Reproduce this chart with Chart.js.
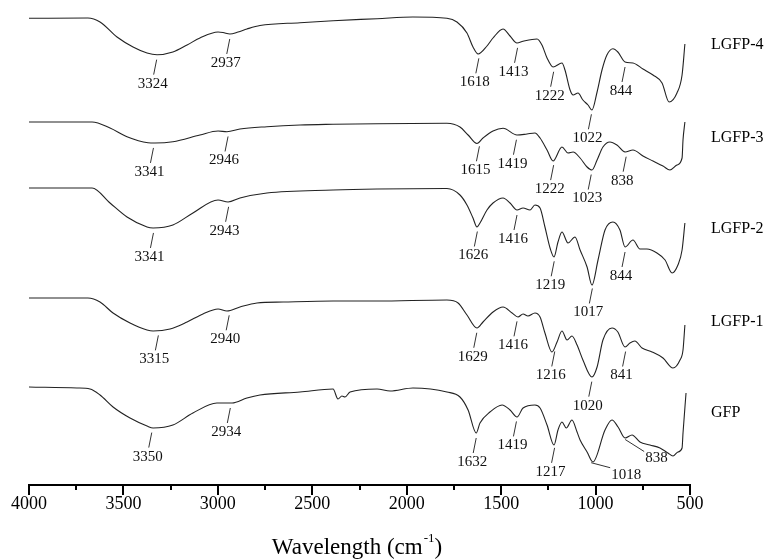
<!DOCTYPE html>
<html>
<head>
<meta charset="utf-8">
<script src="https://cdn.jsdelivr.net/npm/chart.js@4.4.1/dist/chart.umd.min.js"></script>
<style>
  html, body { margin: 0; padding: 0; background: #fff; }
  #wrap { width: 765px; height: 559px; }
</style>
</head>
<body>
<div id="wrap"><canvas id="ftir"></canvas></div>
<script>
"use strict";

// spectra (stacked transmittance, arbitrary units)
const seriesNames = ["LGFP-4", "LGFP-3", "LGFP-2", "LGFP-1", "GFP"];

const wnLGFP4 = [4000, 3688, 3624, 3534, 3449, 3375, 3322, 3238, 3163, 3095, 2999, 2973, 2936, 2893, 2846, 2777, 2565, 2390, 2157, 1967, 1787, 1734, 1681, 1649, 1622, 1575, 1543, 1490, 1453, 1416, 1384, 1310, 1284, 1257, 1225, 1178, 1162, 1135, 1119, 1093, 1067, 1040, 1019, 992, 966, 940, 908, 882, 844, 802, 749, 696, 648, 611, 569, 542, 527];
const tLGFP4 = [466.7, 467, 463, 448, 438, 432, 430.3, 433, 440, 447, 453, 452.5, 451, 453, 456, 459.5, 462.3, 464.3, 466.3, 468, 466.7, 463, 452, 438, 431, 439, 447, 456, 449, 442, 443.7, 446, 440, 427, 418, 422, 415, 395, 390, 392, 385, 380, 375, 393, 415, 430, 436.3, 433, 423, 422, 416, 410, 402, 383, 392, 410, 441];

const wnLGFP3 = [4000, 3666, 3571, 3481, 3370, 3333, 3238, 3095, 2999, 2952, 2883, 2740, 2565, 2390, 2157, 1787, 1718, 1675, 1628, 1596, 1543, 1490, 1416, 1363, 1321, 1294, 1257, 1225, 1178, 1146, 1119, 1082, 1045, 1019, 992, 961, 924, 887, 844, 802, 749, 696, 643, 606, 569, 542, 537, 527];
const tLGFP3 = [363, 363, 357, 348.3, 342.3, 342, 343.3, 350, 354, 353.3, 356, 358.3, 360, 360.7, 361.3, 361.7, 358, 350, 341.5, 347, 354, 356.7, 350, 351, 352, 347, 335, 324, 338, 332, 333, 327, 318, 315, 325, 338, 343, 340, 333, 335, 329, 324, 319, 315, 320, 327, 345, 363];

const wnLGFP2 = [4000, 3666, 3571, 3481, 3375, 3343, 3238, 3132, 2999, 2946, 2883, 2740, 2390, 2157, 1787, 1718, 1681, 1649, 1628, 1612, 1575, 1543, 1490, 1453, 1416, 1384, 1347, 1321, 1294, 1268, 1241, 1220, 1199, 1178, 1146, 1109, 1082, 1045, 1019, 987, 950, 908, 871, 844, 802, 765, 728, 675, 632, 595, 564, 542, 527];
const tLGFP2 = [297, 297, 282, 268, 258, 257, 260, 272, 285, 283, 287, 292, 295, 296, 296.5, 290, 280, 267, 258, 262, 275, 282, 287, 282, 275, 277, 275, 280, 277, 258, 237, 228, 243, 253, 242, 248, 235, 218, 200, 225, 255, 263, 255, 238, 245, 236, 236, 232, 225, 212, 220, 235, 262];

const wnLGFP1 = [4000, 3688, 3624, 3555, 3465, 3375, 3343, 3253, 3163, 3079, 2999, 2952, 2883, 2793, 2655, 2390, 2157, 1787, 1728, 1681, 1628, 1596, 1543, 1490, 1442, 1411, 1384, 1358, 1321, 1294, 1268, 1231, 1204, 1178, 1151, 1125, 1098, 1067, 1019, 992, 961, 913, 882, 844, 818, 792, 754, 701, 643, 590, 553, 537, 527];
const tLGFP1 = [187, 187, 183, 172, 162, 155, 154, 156, 163, 171, 176, 174, 178, 182, 183, 184, 184, 185, 182, 170, 157, 163, 173, 178, 172, 168, 171, 169, 172, 168, 152, 133, 143, 154, 145, 149, 140, 125, 108, 118, 145, 157, 153, 138, 142, 144, 137, 133, 127, 117, 125, 135, 160];

const wnGFP = [4000, 3746, 3677, 3624, 3555, 3465, 3375, 3343, 3238, 3132, 3005, 2925, 2846, 2777, 2565, 2390, 2364, 2343, 2327, 2300, 2157, 2088, 1967, 1787, 1718, 1675, 1632, 1612, 1559, 1495, 1453, 1416, 1384, 1321, 1294, 1257, 1220, 1199, 1178, 1155, 1125, 1098, 1082, 1045, 1014, 950, 913, 881, 844, 807, 765, 712, 659, 617, 590, 564, 542, 537, 521];
const tGFP = [98, 97, 96, 90, 78, 67, 59, 57, 60, 72, 82, 82, 87, 90, 93, 96, 86, 89, 88, 93, 96, 94, 97, 93, 88, 75, 52, 62, 73, 80, 75, 68, 77, 80, 77, 60, 40, 55, 63, 57, 65, 53, 45, 33, 23, 55, 65, 58, 47, 50, 43, 40, 37, 32, 29, 33, 37, 52, 92];

// marked peaks (cm-1) of each spectrum
const peaksLGFP4 = [3324, 2937, 1618, 1413, 1222, 1022, 844];
const peaksLGFP3 = [3341, 2946, 1615, 1419, 1222, 1023, 838];
const peaksLGFP2 = [3341, 2943, 1626, 1416, 1219, 1017, 844];
const peaksLGFP1 = [3315, 2940, 1629, 1416, 1216, 1020, 841];
const peaksGFP = [3350, 2934, 1632, 1419, 1217, 1018, 838];

const xTicks = [4000, 3500, 3000, 2500, 2000, 1500, 1000, 500];

const allWn = [wnLGFP4, wnLGFP3, wnLGFP2, wnLGFP1, wnGFP];
const allT = [tLGFP4, tLGFP3, tLGFP2, tLGFP1, tGFP];
const allPeaks = [peaksLGFP4, peaksLGFP3, peaksLGFP2, peaksLGFP1, peaksGFP];
const nameLevels = [440, 347, 256, 163, 72];

const SERIF = "'Liberation Serif', 'Times New Roman', serif";

function valueAt(xs, ys, wn) {
  for (let i = 0; i < xs.length - 1; i++) {
    if (wn <= xs[i] && wn >= xs[i + 1]) {
      const f = (xs[i] - wn) / (xs[i] - xs[i + 1]);
      return ys[i] + f * (ys[i + 1] - ys[i]);
    }
  }
  return ys[ys.length - 1];
}

const ftirDecor = {
  id: "ftirDecor",
  afterDraw(chart) {
    const ctx = chart.ctx;
    const sx = chart.scales.x, sy = chart.scales.y;
    const area = chart.chartArea;
    ctx.save();

    // tick marks, long at 500 steps, short between
    ctx.strokeStyle = "#000";
    ctx.lineWidth = 2;
    for (let wn = 500; wn <= 4000; wn += 250) {
      const px = Math.round(sx.getPixelForValue(wn));
      const len = wn % 500 === 0 ? 10 : 5;
      ctx.beginPath();
      ctx.moveTo(px, area.bottom);
      ctx.lineTo(px, area.bottom + len);
      ctx.stroke();
    }

    // peak markers
    ctx.lineWidth = 1;
    ctx.strokeStyle = "#333";
    ctx.fillStyle = "#111";
    ctx.font = "15px " + SERIF;
    ctx.textBaseline = "middle";
    allPeaks.forEach((peaks, i) => {
      peaks.forEach(wn => {
        const px = sx.getPixelForValue(wn);
        const py = sy.getPixelForValue(valueAt(allWn[i], allT[i], wn));
        const toRight = seriesNames[i] === "GFP" && (wn === 1018 || wn === 838);
        ctx.beginPath();
        if (toRight) {
          const dy = wn === 1018 ? 5 : 12;
          ctx.moveTo(px - 1, py + 2);
          ctx.lineTo(px + 18, py + 2 + dy);
          ctx.stroke();
          ctx.textAlign = "left";
          ctx.fillText(String(wn), px + 19, py + 9 + dy);
        } else {
          ctx.moveTo(px, py + 5);
          ctx.lineTo(px - 3, py + 20);
          ctx.stroke();
          ctx.textAlign = "center";
          ctx.fillText(String(wn), px - 4, py + 29);
        }
      });
    });

    // spectrum names
    ctx.fillStyle = "#000";
    ctx.font = "16px " + SERIF;
    ctx.textAlign = "left";
    seriesNames.forEach((name, i) => {
      ctx.fillText(name, area.right + 21, sy.getPixelForValue(nameLevels[i]));
    });

    // axis title with superscript
    const main = "Wavelength (cm";
    const sup = "-1";
    const tail = ")";
    ctx.font = "23px " + SERIF;
    const w1 = ctx.measureText(main).width;
    const w3 = ctx.measureText(tail).width;
    ctx.font = "13px " + SERIF;
    const w2 = ctx.measureText(sup).width;
    const total = w1 + w2 + w3;
    let x0 = (area.left + area.right) / 2 - total / 2 - 3;
    const ty = 548;
    ctx.textAlign = "left";
    ctx.font = "23px " + SERIF;
    ctx.fillText(main, x0, ty);
    ctx.font = "13px " + SERIF;
    ctx.fillText(sup, x0 + w1 + 1, ty - 9);
    ctx.font = "23px " + SERIF;
    ctx.fillText(tail, x0 + w1 + w2 + 1, ty);
    ctx.restore();
  }
};

const datasets = seriesNames.map((name, i) => ({
  label: name,
  data: allWn[i].map((wn, j) => ({ x: wn, y: allT[i][j] })),
  borderColor: "#222",
  borderWidth: 1.1,
  pointRadius: 0,
  fill: false,
  cubicInterpolationMode: "monotone"
}));

new Chart(document.getElementById("ftir"), {
  type: "line",
  data: { datasets },
  options: {
    responsive: true,
    maintainAspectRatio: false,
    animation: false,
    events: [],
    layout: { padding: { left: 29, right: 75, top: 10, bottom: 0 } },
    plugins: { legend: { display: false }, tooltip: { enabled: false } },
    scales: {
      x: {
        type: "linear",
        reverse: true,
        min: 500,
        max: 4000,
        afterBuildTicks: (scale) => { scale.ticks = xTicks.map(v => ({ value: v })); },
        afterFit: (scale) => { scale.height = 74; },
        grid: { display: false, drawTicks: false },
        border: { display: true, color: "#000", width: 2 },
        ticks: {
          padding: 8,
          color: "#000",
          maxRotation: 0,
          font: { family: SERIF, size: 18 },
          callback: (v) => String(v)
        }
      },
      y: {
        display: false,
        min: 0,
        max: 475
      }
    }
  },
  plugins: [ftirDecor]
});
</script>
</body>
</html>
